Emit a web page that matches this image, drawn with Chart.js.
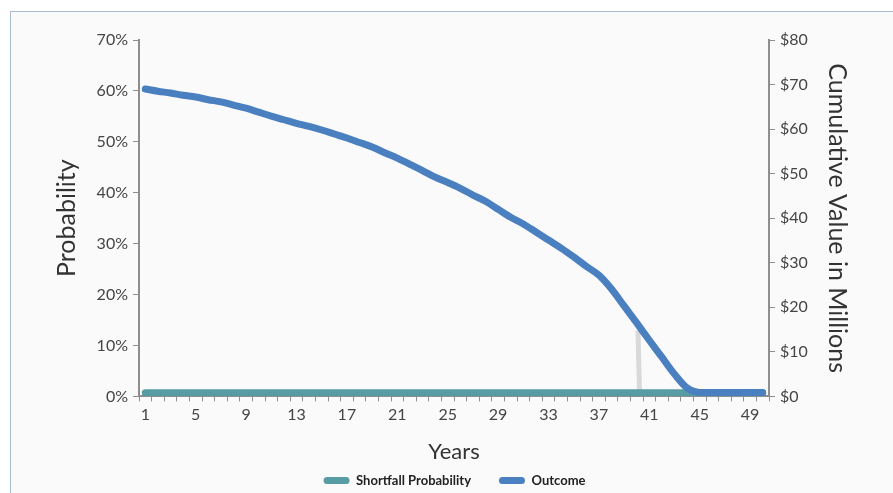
<!DOCTYPE html>
<html lang="en">
<head>
<meta charset="utf-8">
<script src="https://cdn.jsdelivr.net/npm/chart.js@4/dist/chart.umd.min.js"></script>
<style>
  html, body { margin: 0; padding: 0; background: #fff; overflow: hidden; }
  #panel {
    position: absolute; left: 10px; top: 11px; width: 900px; height: 500px;
    background: #fafafa; border: 1px solid #a9bccf;
  }
  #wrap { position: absolute; left: 0; top: 0; width: 893px; height: 493px; }
</style>
</head>
<body>
<div id="panel"></div>
<div id="wrap"><canvas id="chart" width="893" height="493"></canvas></div>
<script>
// years 1..50
var years = ['1','2','3','4','5','6','7','8','9','10','11','12','13','14','15','16','17','18','19','20',
             '21','22','23','24','25','26','27','28','29','30','31','32','33','34','35','36','37','38','39','40',
             '41','42','43','44','45','46','47','48','49','50'];

// shortfall probability, % (left axis)
var shortfall = [0.7,0.7,0.7,0.7,0.7,0.7,0.7,0.7,0.7,0.7,0.7,0.7,0.7,0.7,0.7,0.7,0.7,0.7,0.7,0.7,
                 0.7,0.7,0.7,0.7,0.7,0.7,0.7,0.7,0.7,0.7,0.7,0.7,0.7,0.7,0.7,0.7,0.7,0.7,0.7,0.7,
                 0.7,0.7,0.7,0.7,0.7,0.7,0.7,0.7,0.7,0.7];

// outcome, $ millions (right axis)
var outcome = [69.0,68.5,68.1,67.6,67.2,66.6,66.1,65.4,64.7,63.8,62.9,62.1,61.3,60.6,59.8,58.9,58.0,57.0,56.0,54.7,
               53.5,52.1,50.7,49.2,48.0,46.7,45.2,43.8,42.0,40.2,38.7,36.9,35.1,33.3,31.3,29.2,27.2,24.1,20.3,16.5,
               12.6,8.8,5.0,1.9,0.9,0.9,0.9,0.9,0.9,0.9];

// grey marker (year, $ millions)
var markerYears = [40.1, 40.22];
var markerValues = [14.8, 1.3];

var tickColor = '#454545';
var axisColor = '#8e8e8e';
var fontFamily = 'Lato, "Open Sans", sans-serif';

var markerData = markerYears.map(function(x, i) { return {x: x, y: markerValues[i]}; });

new Chart(document.getElementById('chart'), {
  type: 'line',
  data: {
    labels: years,
    datasets: [
      {
        label: 'Shortfall Probability',
        data: shortfall,
        yAxisID: 'y',
        borderColor: '#579ca3',
        backgroundColor: '#579ca3',
        borderWidth: 7,
        borderCapStyle: 'round',
        pointRadius: 0,
        order: 1
      },
      {
        label: 'Outcome',
        data: outcome,
        yAxisID: 'y2',
        borderColor: '#4a7fc0',
        backgroundColor: '#4a7fc0',
        borderWidth: 7,
        borderCapStyle: 'round',
        borderJoinStyle: 'round',
        cubicInterpolationMode: 'monotone',
        pointRadius: 0,
        order: 0
      },
      {
        label: 'marker',
        data: markerData,
        xAxisID: 'x2',
        yAxisID: 'y2',
        borderColor: '#d9d9d9',
        borderWidth: 5,
        pointRadius: 0,
        order: 2
      }
    ]
  },
  options: {
    responsive: false,
    animation: false,
    layout: { padding: { left: 40, right: 24, top: 40, bottom: -4 } },
    plugins: {
      tooltip: { enabled: false },
      legend: {
        position: 'bottom',
        labels: {
          filter: function(item) { return item.text !== 'marker'; },
          sort: function(a, b) { return a.datasetIndex - b.datasetIndex; },
          generateLabels: function(chart) {
            var items = Chart.defaults.plugins.legend.labels.generateLabels(chart);
            items.forEach(function(it) {
              it.lineWidth = 0;
              // extra room after the first entry
              if (it.datasetIndex === 0) it.text = it.text + '      ';
            });
            return items;
          },
          boxWidth: 26,
          boxHeight: 7,
          useBorderRadius: true,
          borderRadius: 3.5,
          padding: 9,
          color: '#222',
          font: { family: fontFamily, size: 13, weight: 'bold' }
        }
      }
    },
    scales: {
      x: {
        type: 'category',
        offset: true,
        border: { color: axisColor, width: 2 },
        grid: { drawOnChartArea: false, offset: true, tickLength: 5, color: axisColor, lineWidth: 1 },
        ticks: {
          autoSkip: false,
          maxRotation: 0,
          padding: 4,
          color: tickColor,
          font: { family: fontFamily, size: 16 },
          callback: function(v, i) { return i % 4 === 0 ? years[i] : ''; }
        },
        title: {
          display: true, text: 'Years', color: '#333',
          font: { family: fontFamily, size: 22 },
          padding: { top: 10, bottom: 0 }
        }
      },
      x2: {
        type: 'linear',
        display: false,
        min: 0.5,
        max: 50.5
      },
      y: {
        position: 'left',
        min: 0, max: 70,
        border: { color: axisColor, width: 2 },
        grid: { drawOnChartArea: false, tickLength: 6, color: axisColor },
        ticks: {
          stepSize: 10, padding: 5, color: tickColor,
          font: { family: fontFamily, size: 16 },
          callback: function(v) { return v + '%'; }
        },
        title: {
          display: true, text: 'Probability', color: '#333',
          font: { family: fontFamily, size: 25 },
          padding: { top: 12, bottom: 0 }
        },
        afterFit: function(s) { s.width = 99; }
      },
      y2: {
        position: 'right',
        min: 0, max: 80,
        border: { color: axisColor, width: 2 },
        grid: { drawOnChartArea: false, tickLength: 6, color: axisColor },
        ticks: {
          stepSize: 10, padding: 5, color: tickColor,
          font: { family: fontFamily, size: 16 },
          callback: function(v) { return '$' + v; }
        },
        title: {
          display: true, text: 'Cumulative Value in Millions', color: '#333',
          font: { family: fontFamily, size: 25 },
          padding: { top: 17, bottom: 0 }
        },
        afterFit: function(s) { s.width = 100; }
      }
    }
  }
});
</script>
</body>
</html>
